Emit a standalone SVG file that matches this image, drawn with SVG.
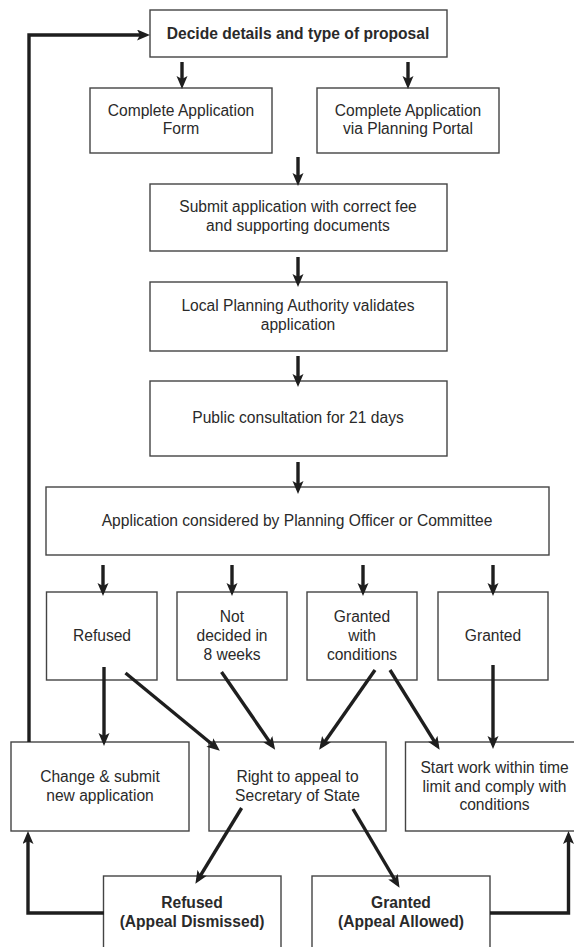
<svg xmlns="http://www.w3.org/2000/svg" width="574" height="947" viewBox="0 0 574 947">
<style>
.box{fill:#fff;stroke:#444;stroke-width:1.4}
.t{font-family:"Liberation Sans",Arial,sans-serif;font-size:15.6px;fill:#2a2a2a;text-anchor:middle}
.b{font-weight:bold}
.c{fill:none;stroke:#1e1e1e;stroke-width:3.4;stroke-linejoin:miter}
</style>
<defs>
<marker id="ah" markerUnits="userSpaceOnUse" markerWidth="14" markerHeight="12" refX="8" refY="5.5" orient="auto">
<path d="M0,0 L13,5.5 L0,11 L3,5.5 z" fill="#1e1e1e"/>
</marker>
</defs>
<rect width="574" height="947" fill="#fff"/>
<g id="nodes">
<g id="n-decide"><rect class="box" x="150" y="10" width="297" height="47"/><text class="t b" x="298" y="39">Decide details and type of proposal</text></g>
<g id="n-form"><rect class="box" x="90" y="88" width="182" height="65"/><text class="t" x="181" y="115.5">Complete Application</text><text class="t" x="181" y="134">Form</text></g>
<g id="n-portal"><rect class="box" x="317" y="88" width="182" height="65"/><text class="t" x="408" y="115.5">Complete Application</text><text class="t" x="408" y="134">via Planning Portal</text></g>
<g id="n-submit"><rect class="box" x="150" y="184" width="297" height="67"/><text class="t" x="298" y="212">Submit application with correct fee</text><text class="t" x="298" y="231">and supporting documents</text></g>
<g id="n-lpa"><rect class="box" x="150" y="282" width="297" height="69"/><text class="t" x="298" y="311">Local Planning Authority validates</text><text class="t" x="298" y="330">application</text></g>
<g id="n-public"><rect class="box" x="150" y="381" width="297" height="75"/><text class="t" x="298" y="423">Public consultation for 21 days</text></g>
<g id="n-considered"><rect class="box" x="46" y="487" width="503" height="68"/><text class="t" x="297" y="525.5">Application considered by Planning Officer or Committee</text></g>
<g id="n-refused"><rect class="box" x="46.5" y="592" width="110.5" height="88"/><text class="t" x="102" y="640.5">Refused</text></g>
<g id="n-notdecided"><rect class="box" x="177" y="592" width="110" height="88"/><text class="t" x="232" y="621.5">Not</text><text class="t" x="232" y="640.5">decided in</text><text class="t" x="232" y="659.5">8 weeks</text></g>
<g id="n-grantedcond"><rect class="box" x="307" y="592" width="110" height="88"/><text class="t" x="362" y="621.5">Granted</text><text class="t" x="362" y="640.5">with</text><text class="t" x="362" y="659.5">conditions</text></g>
<g id="n-granted"><rect class="box" x="438" y="592" width="110" height="88"/><text class="t" x="493" y="640.5">Granted</text></g>
<g id="n-change"><rect class="box" x="11" y="742" width="178" height="89"/><text class="t" x="100" y="781.5">Change &amp; submit</text><text class="t" x="100" y="800.5">new application</text></g>
<g id="n-appeal"><rect class="box" x="209" y="742" width="177" height="89"/><text class="t" x="297.5" y="781.5">Right to appeal to</text><text class="t" x="297.5" y="800.5">Secretary of State</text></g>
<g id="n-start"><rect class="box" x="405.5" y="742" width="175" height="89"/><text class="t" x="494.5" y="772.5">Start work within time</text><text class="t" x="494.5" y="791.5">limit and comply with</text><text class="t" x="494.5" y="810">conditions</text></g>
<g id="n-dismissed"><rect class="box" x="103.5" y="876" width="177.5" height="80"/><text class="t b" x="192" y="907.5">Refused</text><text class="t b" x="192" y="927">(Appeal Dismissed)</text></g>
<g id="n-allowed"><rect class="box" x="312" y="876" width="178" height="80"/><text class="t b" x="401" y="907.5">Granted</text><text class="t b" x="401" y="927">(Appeal Allowed)</text></g>
</g>
<g id="connectors">
<polyline class="c" points="29,742 29,35 145,35" marker-end="url(#ah)"/>
<line class="c" x1="182" y1="62" x2="182" y2="84" marker-end="url(#ah)"/>
<line class="c" x1="408" y1="62" x2="408" y2="84" marker-end="url(#ah)"/>
<line class="c" x1="298" y1="157" x2="298" y2="181" marker-end="url(#ah)"/>
<line class="c" x1="298" y1="257" x2="298" y2="282" marker-end="url(#ah)"/>
<line class="c" x1="298" y1="356" x2="298" y2="382" marker-end="url(#ah)"/>
<line class="c" x1="298" y1="462" x2="298" y2="489" marker-end="url(#ah)"/>
<line class="c" x1="103" y1="565" x2="103" y2="591" marker-end="url(#ah)"/>
<line class="c" x1="232" y1="565" x2="232" y2="591" marker-end="url(#ah)"/>
<line class="c" x1="363" y1="565" x2="363" y2="591" marker-end="url(#ah)"/>
<line class="c" x1="493" y1="565" x2="493" y2="591" marker-end="url(#ah)"/>
<line class="c" x1="104" y1="667" x2="104" y2="741" marker-end="url(#ah)"/>
<line class="c" x1="125.5" y1="673" x2="216" y2="747.5" marker-end="url(#ah)"/>
<line class="c" x1="221.5" y1="672" x2="272.3" y2="745.7" marker-end="url(#ah)"/>
<line class="c" x1="375" y1="670" x2="322" y2="745.7" marker-end="url(#ah)"/>
<line class="c" x1="390" y1="670" x2="437" y2="745.6" marker-end="url(#ah)"/>
<line class="c" x1="493" y1="665" x2="493" y2="744" marker-end="url(#ah)"/>
<line class="c" x1="241.6" y1="808" x2="198" y2="879.6" marker-end="url(#ah)"/>
<line class="c" x1="353" y1="809" x2="397" y2="883.5" marker-end="url(#ah)"/>
<polyline class="c" points="104,913 28,913 28,836" marker-end="url(#ah)"/>
<polyline class="c" points="490,913 568.5,913 568.5,836" marker-end="url(#ah)"/>
</g>
</svg>
